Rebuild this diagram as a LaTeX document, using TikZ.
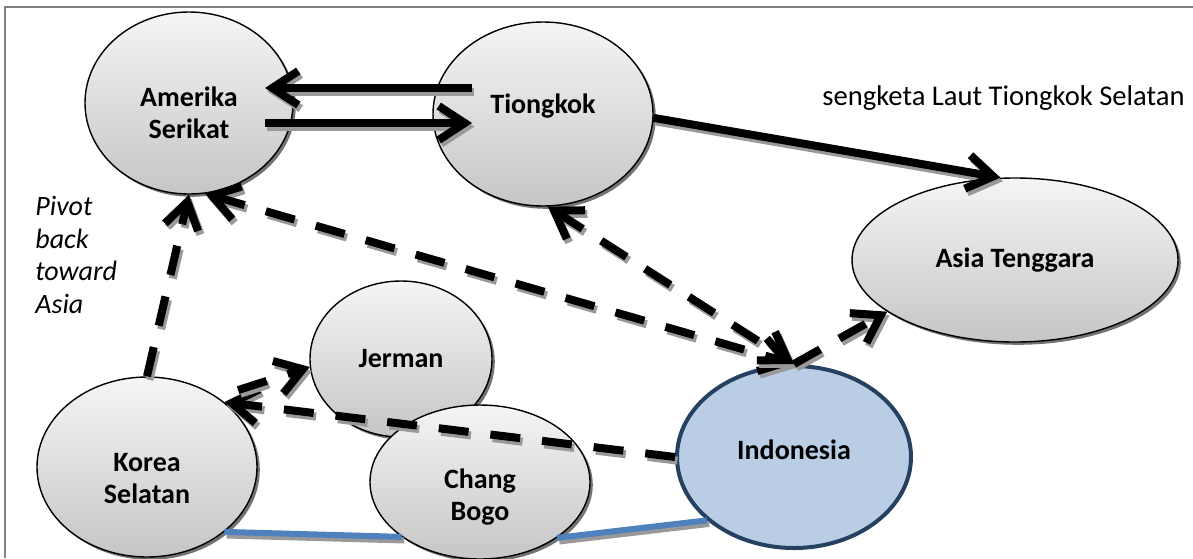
\documentclass[tikz,border=0pt]{standalone}
\usepackage{fontspec}
\setmainfont{Carlito}
\usetikzlibrary{shapes.geometric,arrows.meta,shadows,calc}
\definecolor{idfill}{HTML}{B9CDE5}
\definecolor{iddraw}{HTML}{254061}
\definecolor{blueline}{HTML}{4F81BD}
\definecolor{framecol}{HTML}{808080}
\tikzset{
  gnode/.style={ellipse, draw=black, line width=0.7pt, inner sep=0pt,
    top color=gray!8, bottom color=gray!45,
    drop shadow={shadow xshift=1.4pt, shadow yshift=-1.4pt, fill=black!55, opacity=1},
    font=\bfseries\fontsize{14}{16}\selectfont, align=center},
  inode/.style={ellipse, draw=iddraw, line width=2pt, fill=idfill, inner sep=0pt,
    font=\bfseries\fontsize{14}{16}\selectfont, align=center},
  chev/.tip={Straight Barb[length=13pt, width=17pt, line width=4pt]},
  shs/.style={preaction={draw=black!40, line width=4pt, #1, transform canvas={xshift=1.2pt, yshift=-1.8pt}}},
  solidarr/.style={line width=4pt, -chev, shs={-chev}},
  dpat/.style={dash pattern=on 15pt off 11pt},
  dasharr/.style={line width=4pt, dpat, -chev, shs={-chev, dpat}},
  dasharrb/.style={line width=4pt, dpat, chev-chev, shs={chev-chev, dpat}},
  bluel/.style={line width=3pt, draw=blueline, preaction={draw=black!40, line width=3pt, transform canvas={xshift=1.2pt, yshift=-1.8pt}}},
  lbl/.style={font=\fontsize{14.3}{16}\selectfont, inner sep=0pt},
}
\begin{document}
\begin{tikzpicture}[x=0.5pt, y=-0.5pt]
\useasboundingbox (0,0) rectangle (1193,558);
\draw[framecol, line width=1pt] (5,558) -- (5,7) -- (1193,7);

\node[gnode, minimum width=104pt, minimum height=91pt] (as) at (189,103) {\mbox{}\\[4pt]Amerika\\Serikat};
\node[gnode, minimum width=110pt, minimum height=92pt] (ti) at (543,114) {Tiongkok\\[-6pt]\mbox{}};
\node[gnode, minimum width=163pt, minimum height=82pt] (at) at (1015,260) {Asia Tenggara};
\node[gnode, minimum width=91pt, minimum height=78pt] (je) at (401,359) {Jerman};
\node[gnode, minimum width=110pt, minimum height=90pt] (ks) at (147,467) {\mbox{}\\[5pt]Korea\\Selatan};
\node[gnode, minimum width=110pt, minimum height=77pt] (cb) at (480,482) {\mbox{}\\[9pt]Chang\\Bogo};
\node[inode, minimum width=117pt, minimum height=91pt] (id) at (794,457) {Indonesia\\[-9pt]\mbox{}};

\node[lbl, anchor=west] (sk) at (822,98) {sengketa Laut Tiongkok Selatan};
\node[lbl, anchor=north west, align=left, font=\itshape\fontsize{14}{16.3}\selectfont] (pv) at (35,196) {Pivot\\back\\toward\\Asia};

% solid arrows
\draw[solidarr] ($(ti.center)+(-71,-26)$) -- ($(as.center)+(76,-15)$);
\draw[solidarr] ($(as.center)+(76,20)$) -- ($(ti.center)+(-71,9)$);
\draw[solidarr] (ti.-2) -- (at.100);

% dashed arrows
\draw[dasharr] (ks.north) -- (as.south);
\draw[dasharrb] (as.-80) -- (id.north);
\draw[dasharrb] (ti.-87) -- (id.north);
\draw[dasharr] (id.north) -- (at.202);
\draw[dasharr] (id.west) -- (ks.40);
\draw[dasharr, dash phase=15pt] (ks.45) -- (je.185);

% blue lines
\draw[bluel] (ks.-40) -- (cb.215);
\draw[bluel] (cb.-36) -- (id.216);
\end{tikzpicture}
\end{document}
